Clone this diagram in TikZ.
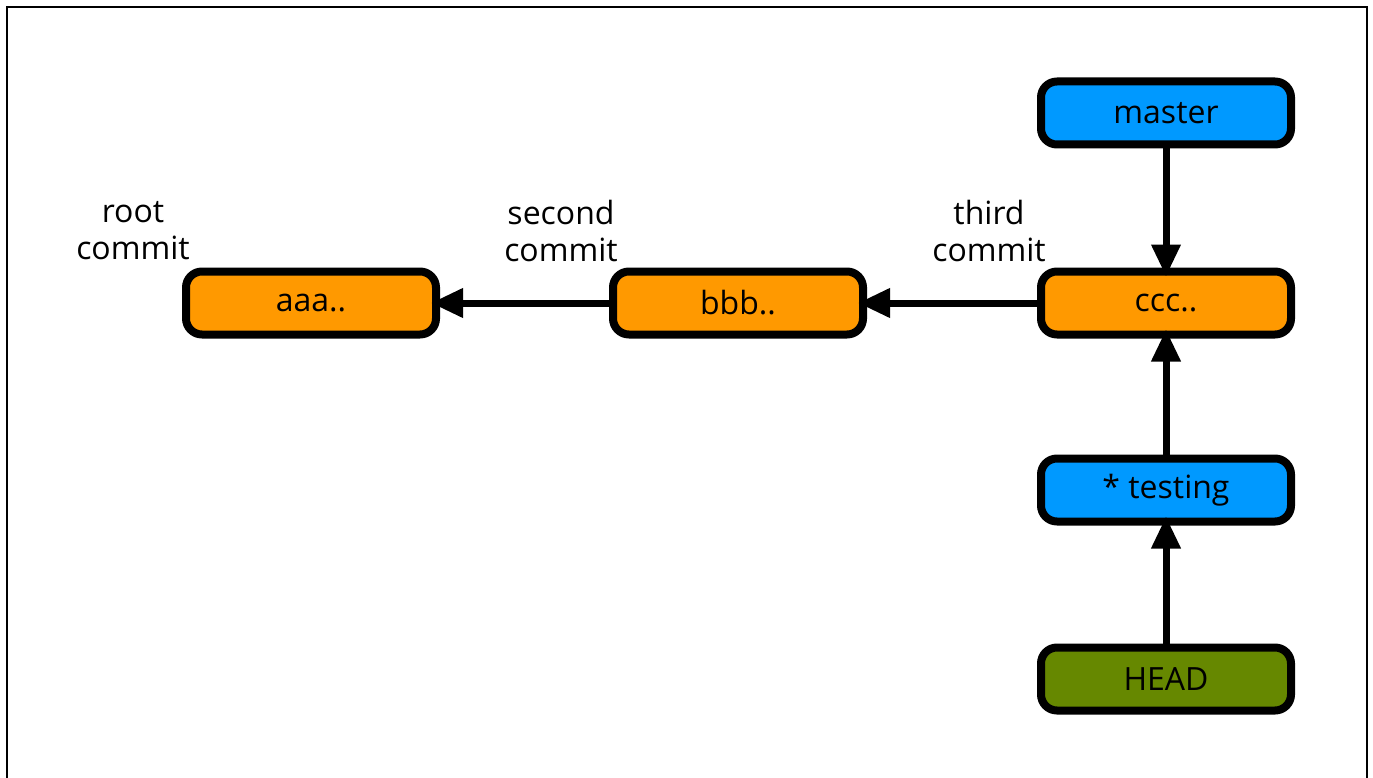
\documentclass[tikz,border=0pt]{standalone}
\usepackage{fontspec}
\setmainfont{Open Sans}
\usetikzlibrary{arrows.meta}
\definecolor{commitorange}{RGB}{255,153,0}
\definecolor{branchblue}{RGB}{0,153,255}
\definecolor{headgreen}{RGB}{102,136,0}
\begin{document}
\begin{tikzpicture}[x=1pt,y=-1pt,
  box/.style={draw=black, line width=8pt, rounded corners=16pt, minimum width=250pt, minimum height=63pt, inner sep=0pt, outer sep=0pt, font=\fontsize{32}{37}\selectfont},
  commitbox/.style={box, fill=commitorange},
  branchbox/.style={box, fill=branchblue},
  headbox/.style={box, fill=headgreen},
  lbl/.style={align=center, font=\fontsize{32}{37}\selectfont, inner sep=0pt},
  ptr/.style={line width=7pt, -{Triangle[length=32pt,width=28pt]}, shorten >=-5pt}
]
\useasboundingbox (0,0) rectangle (1373,778);
\draw[line width=2pt] (7,790) -- (7,7) -- (1367,7) -- (1367,790);

\node[commitbox] (aaa) at (311,303) {aaa..};
\node[commitbox] (bbb) at (738,303) {bbb..};
\node[commitbox] (ccc) at (1166,303) {ccc..};
\node[branchbox] (master) at (1166,113) {master};
\node[branchbox] (testing) at (1166,490) {* testing};
\node[headbox] (head) at (1166,679) {HEAD};

\node[lbl] (l1) at (133,231) {root\\commit};
\node[lbl] (l2) at (561,231) {second\\commit};
\node[lbl] (l3) at (989,231) {third\\commit};

\draw[ptr] (bbb.west) -- (aaa.east);
\draw[ptr] (ccc.west) -- (bbb.east);
\draw[ptr] (master.south) -- (ccc.north);
\draw[ptr] (testing.north) -- (ccc.south);
\draw[ptr] (head.north) -- (testing.south);
\end{tikzpicture}
\end{document}
